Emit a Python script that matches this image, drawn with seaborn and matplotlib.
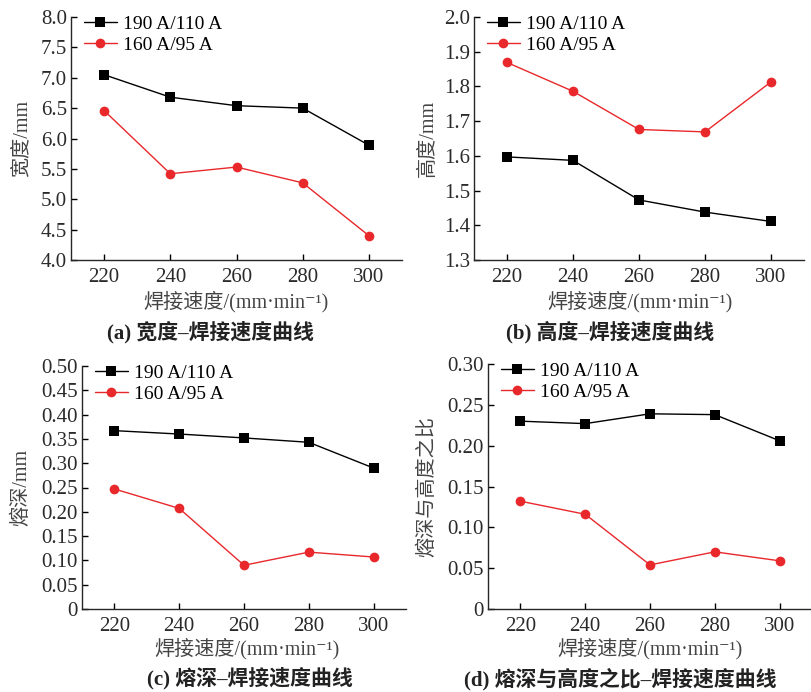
import matplotlib
matplotlib.use("Agg")
import numpy as np
import pandas as pd
import matplotlib.pyplot as plt
import seaborn as sns

# ── Data ───────────────────────────────────────────────────────────────────────
speed = [220, 240, 260, 280, 300]
series_names = ["190 A/110 A", "160 A/95 A"]

width_hi = [7.05, 6.68, 6.54, 6.50, 5.89]
width_lo = [6.46, 5.42, 5.53, 5.27, 4.40]

height_hi = [1.597, 1.587, 1.473, 1.438, 1.411]
height_lo = [1.869, 1.786, 1.676, 1.669, 1.813]

depth_hi = [0.367, 0.360, 0.352, 0.343, 0.290]
depth_lo = [0.247, 0.207, 0.090, 0.117, 0.107]

ratio_hi = [0.230, 0.227, 0.239, 0.238, 0.206]
ratio_lo = [0.132, 0.116, 0.054, 0.070, 0.059]

y_labels = ["宽度/mm", "高度/mm", "熔深/mm", "熔深与高度之比"]
captions = ["(a) 宽度–焊接速度曲线", "(b) 高度–焊接速度曲线",
            "(c) 熔深–焊接速度曲线", "(d) 熔深与高度之比–焊接速度曲线"]
x_label = "焊接速度/(mm·min⁻¹)"

y_ticks = [
    ([4.0, 4.5, 5.0, 5.5, 6.0, 6.5, 7.0, 7.5, 8.0], "{:.1f}"),
    ([1.3, 1.4, 1.5, 1.6, 1.7, 1.8, 1.9, 2.0], "{:.1f}"),
    ([0, 0.05, 0.10, 0.15, 0.20, 0.25, 0.30, 0.35, 0.40, 0.45, 0.50], "{:.2f}"),
    ([0, 0.05, 0.10, 0.15, 0.20, 0.25, 0.30], "{:.2f}"),
]

# ── Style ──────────────────────────────────────────────────────────────────────
sns.set_style("ticks")
plt.rcParams["font.family"] = ["Liberation Serif", "Noto Sans CJK SC", "DejaVu Serif"]
plt.rcParams["axes.linewidth"] = 1.0

RED = "#e8282b"
TEXT = "#2a2a2a"
W, H = 812, 692

# axes boxes in pixels: left, top, right, bottom
boxes = [
    (71, 17, 402, 260),
    (474, 17, 804, 260),
    (82, 366, 406, 609),
    (488, 364, 812, 609),
]
ylabel_x = [22, 428, 22, 428]
xlabel_pos = [(236, 302), (640, 302), (247, 649), (650, 649)]
caption_pos = [(210, 332), (610, 332), (250, 678), (620, 679)]

fig = plt.figure(figsize=(W / 100, H / 100), dpi=100)

panels = [(width_hi, width_lo), (height_hi, height_lo),
          (depth_hi, depth_lo), (ratio_hi, ratio_lo)]

for i, ((hi, lo), (l, t, r, b)) in enumerate(zip(panels, boxes)):
    ax = fig.add_axes([l / W, 1 - b / H, (r - l) / W, (b - t) / H])
    sns.lineplot(x=speed, y=hi, ax=ax, color="black", marker="s", markersize=6.5,
                 markeredgewidth=0, linewidth=1, label=series_names[0])
    sns.lineplot(x=speed, y=lo, ax=ax, color=RED, marker="o", markersize=7,
                 markeredgewidth=0, linewidth=1, label=series_names[1])

    ticks, fmt = y_ticks[i]
    ax.set_ylim(ticks[0], ticks[-1])
    ax.set_yticks(ticks)
    ax.set_yticklabels(["0" if v == 0 else fmt.format(v) for v in ticks])
    ax.set_xlim(210, 310)
    ax.set_xticks(speed)
    ax.tick_params(direction="in", length=4, width=1, labelsize=15,
                   colors="black", labelcolor=TEXT)
    ax.tick_params(axis="x", pad=6)
    ax.tick_params(axis="y", pad=3)
    sns.despine(ax=ax)

    ax.set_xlabel("")
    ax.set_ylabel("")
    fig.text(xlabel_pos[i][0] / W, 1 - xlabel_pos[i][1] / H, x_label,
             ha="center", va="center", fontsize=14.5, color="#444444")
    fig.text(ylabel_x[i] / W, 1 - ((t + b) / 2) / H, y_labels[i], rotation=90,
             ha="center", va="center", fontsize=14.5, color="#444444")

    leg = ax.legend(loc="upper left", frameon=False, fontsize=14,
                    handlelength=1.7, handletextpad=0.3, labelspacing=0.2,
                    borderaxespad=0.0, bbox_to_anchor=(0.015, 1.04))
    for txt in leg.get_texts():
        txt.set_color("black")

    fig.text(caption_pos[i][0] / W, 1 - caption_pos[i][1] / H, captions[i],
             ha="center", va="center", fontsize=15, fontweight="bold",
             color="#222222")

fig.savefig("out.png", dpi=100)
